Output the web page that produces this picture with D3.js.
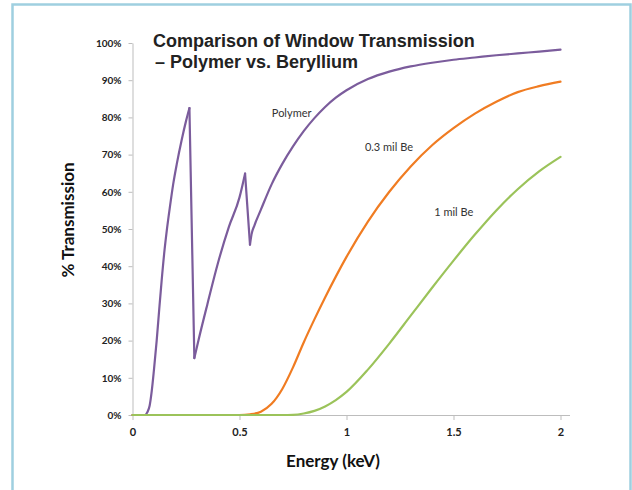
<!DOCTYPE html>
<html>
<head>
<meta charset="utf-8">
<script src="https://cdn.jsdelivr.net/npm/d3@7"></script>
<style>
  body { margin: 0; background: #fff; }
  svg { display: block; }
</style>
</head>
<body>
<div id="chart-area"></div>
<script>
// energy (keV) / transmission (%)
const polymerE = [0, 0.03, 0.058, 0.07, 0.08, 0.09, 0.1, 0.113, 0.125, 0.136, 0.15, 0.16, 0.175,
    0.19, 0.207, 0.23, 0.25, 0.266,
    0.289, 0.31, 0.35, 0.4, 0.45, 0.5, 0.526,
    0.549, 0.556, 0.57, 0.6, 0.65, 0.7, 0.75, 0.8, 0.85, 0.9, 0.95, 1.0, 1.1, 1.2, 1.3, 1.4,
    1.5, 1.6, 1.7, 1.8, 1.9, 2.0];
const polymerT = [0, 0, 0, 0.8, 2.5, 6.5, 12, 20, 28.5, 36, 44.5, 49.5, 56,
    62, 67.5, 74, 79, 82.5,
    15.3, 20.5, 29.8, 41, 50.5, 58.5, 64.9,
    45.8, 48.5, 51, 55.2, 62, 67.5, 72.2, 76.3, 79.8, 82.8, 85.3, 87.3, 90.3, 92.3, 93.7, 94.7,
    95.5, 96.1, 96.7, 97.2, 97.7, 98.2];
// absorption edges of the polymer (index where each new branch starts)
const polymerEdges = [18, 25];

const be03E = [0, 0.3, 0.5, 0.55, 0.6, 0.65, 0.7, 0.75, 0.8, 0.85, 0.9, 0.95, 1.0, 1.1, 1.2,
    1.3, 1.4, 1.5, 1.6, 1.7, 1.8, 1.9, 2.0];
const be03T = [0, 0, 0, 0.2, 0.9, 3.0, 7.0, 12.8, 19.5, 25.7, 31.6, 37.2, 42.5, 52, 60,
    66.8, 72.5, 77.1, 81, 84.2, 86.8, 88.4, 89.6];

const be1E = [0, 0.4, 0.7, 0.75, 0.8, 0.85, 0.9, 0.95, 1.0, 1.1, 1.2, 1.3, 1.4, 1.5, 1.6,
    1.7, 1.8, 1.9, 2.0];
const be1T = [0, 0, 0, 0.05, 0.4, 1.1, 2.3, 4.0, 6.2, 12.2, 19.2, 26.7, 34.2, 41.5, 48.5,
    55, 60.7, 65.5, 69.4];

const xTicks = [0, 0.5, 1, 1.5, 2];
const yTicks = [0, 10, 20, 30, 40, 50, 60, 70, 80, 90, 100];

const seriesNames = ["Polymer", "0.3 mil Be", "1 mil Be"];
const seriesColors = ["#7b5c9c", "#f07c22", "#9bc35a"];

const width = 632;
const height = 490;

const svg = d3.select("#chart-area")
    .append("svg")
    .attr("width", width)
    .attr("height", height);

// light blue frame, open at the bottom
svg.append("path")
    .attr("d", "M12.5,490 L12.5,4.5 L630.5,4.5 L630.5,490")
    .attr("fill", "none")
    .attr("stroke", "#9fcfe0")
    .attr("stroke-width", 2.5);

const x = d3.scaleLinear().domain([0, 2]).range([132.5, 560.5]);
const y = d3.scaleLinear().domain([0, 100]).range([415, 43]);

const axisColor = "#bdbdbd";

// y axis
const yAxis = svg.append("g")
    .attr("transform", "translate(132.5,0)")
    .call(d3.axisLeft(y).tickValues(yTicks).tickSize(4).tickSizeOuter(0)
        .tickFormat(d => d + "%"));
yAxis.select(".domain").attr("stroke", axisColor);
yAxis.selectAll(".tick line").attr("stroke", axisColor);
yAxis.selectAll(".tick text")
    .attr("x", -11)
    .attr("fill", "#222")
    .style("font-family", "Lato, 'Open Sans', sans-serif")
    .style("font-weight", "bold")
    .style("font-size", "10px");

// x axis, line runs a little past 2
const xAxis = svg.append("g")
    .attr("transform", "translate(0,415)")
    .call(d3.axisBottom(x).tickValues(xTicks).tickSize(5).tickSizeOuter(0)
        .tickFormat(d => d));
xAxis.select(".domain")
    .attr("d", "M132.5,0.5H570")
    .attr("stroke", axisColor);
xAxis.selectAll(".tick line").attr("stroke", axisColor);
xAxis.selectAll(".tick text")
    .attr("y", 13)
    .attr("fill", "#222")
    .style("font-family", "Lato, 'Open Sans', sans-serif")
    .style("font-weight", "bold")
    .style("font-size", "11px");

// lines
const line = d3.line()
    .x(d => x(d[0]))
    .y(d => y(d[1]))
    .curve(d3.curveMonotoneX);

const polymer = d3.zip(polymerE, polymerT);

// polymer: smooth branches, straight drops at the edges
const pieces = [];
let start = 0;
polymerEdges.forEach(k => {
    pieces.push({ pts: polymer.slice(start, k), c: 0 });
    pieces.push({ pts: polymer.slice(k - 1, k + 1), c: 0 });
    start = k;
});
pieces.push({ pts: polymer.slice(start), c: 0 });
pieces.push({ pts: d3.zip(be03E, be03T), c: 1 });
pieces.push({ pts: d3.zip(be1E, be1T), c: 2 });

svg.selectAll("path.series")
    .data(pieces)
    .enter()
    .append("path")
    .attr("class", "series")
    .attr("d", d => line(d.pts))
    .attr("fill", "none")
    .attr("stroke", d => seriesColors[d.c])
    .attr("stroke-width", 2.2)
    .attr("stroke-linejoin", "round")
    .attr("stroke-linecap", "round");

// series labels
const labelPos = [[0.651, 80], [1.086, 71], [1.41, 53.5]];
svg.selectAll("text.label")
    .data(seriesNames)
    .enter()
    .append("text")
    .attr("class", "label")
    .attr("x", (d, i) => x(labelPos[i][0]))
    .attr("y", (d, i) => y(labelPos[i][1]))
    .attr("fill", "#333")
    .style("font-family", "Lato, 'Open Sans', sans-serif")
    .style("font-size", "11px")
    .text(d => d);

// title
const title = svg.append("text")
    .attr("x", 153)
    .attr("y", 47)
    .attr("fill", "#222")
    .style("font-family", "'Liberation Sans', Arial, sans-serif")
    .style("font-weight", "bold")
    .style("font-size", "18px");
title.append("tspan").attr("x", 153).text("Comparison of Window Transmission");
title.append("tspan").attr("x", 155).attr("dy", 20.5).text("\u2013 Polymer vs. Beryllium");

// axis titles
svg.append("text")
    .attr("x", 333)
    .attr("y", 467)
    .attr("text-anchor", "middle")
    .attr("fill", "#111")
    .style("font-family", "Lato, 'Open Sans', sans-serif")
    .style("font-weight", "bold")
    .style("font-size", "17px")
    .text("Energy (keV)");

svg.append("text")
    .attr("transform", "translate(74,220) rotate(-90)")
    .attr("text-anchor", "middle")
    .attr("fill", "#111")
    .style("font-family", "Lato, 'Open Sans', sans-serif")
    .style("font-weight", "bold")
    .style("font-size", "17px")
    .text("% Transmission");
</script>
</body>
</html>
